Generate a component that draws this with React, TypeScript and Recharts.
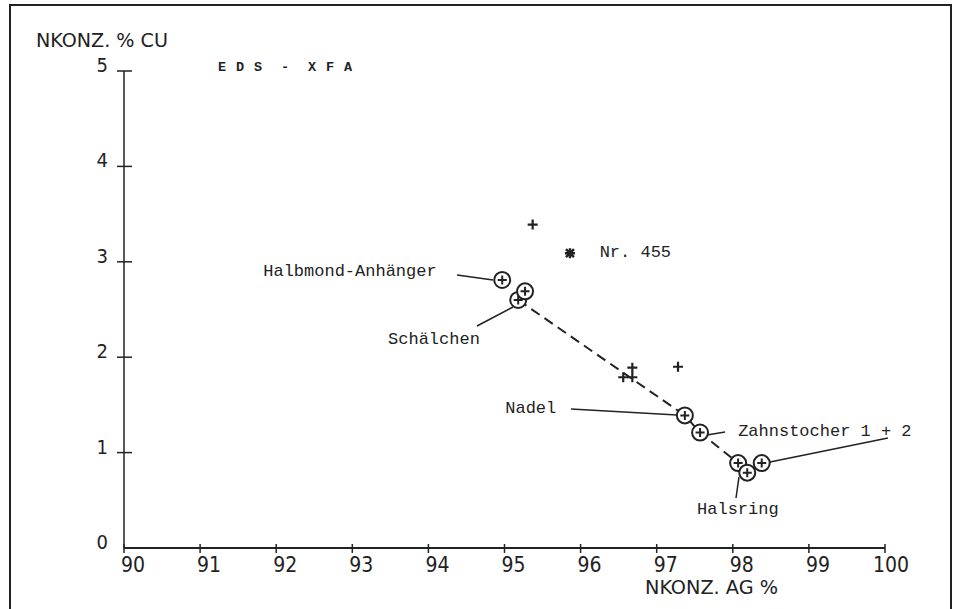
import React from 'react';
import {
  ReferenceLine,
  Scatter,
  ScatterChart,
  XAxis,
  YAxis,
  Label,
} from 'recharts';

// EDS - XFA: Cu gegen Ag (Nennkonzentration), mit Beschriftung der Fundobjekte

const xTicks = [90, 91, 92, 93, 94, 95, 96, 97, 98, 99, 100];
const yTicks = [0, 1, 2, 3, 4, 5];

// einfache Messpunkte (+)
const plusX = [95.37, 96.56, 96.68, 96.68, 97.28];
const plusY = [3.39, 1.79, 1.79, 1.89, 1.9];

// Nr. 455 (Stern)
const starX = [95.86];
const starY = [3.09];

// beschriftete Objekte (Kreis mit +)
const ringX = [94.97, 95.18, 95.27, 97.37, 97.57, 98.07, 98.19, 98.38];
const ringY = [2.81, 2.6, 2.69, 1.39, 1.21, 0.89, 0.79, 0.89];

// gestrichelte Verbindung
const trendX = [95.18, 97.37, 97.57, 98.07];
const trendY = [2.6, 1.39, 1.21, 0.89];

// Beschriftungen (linke Grundlinie)
const labelText = ['Halbmond-Anhänger', 'Schälchen', 'Nr. 455', 'Nadel', 'Zahnstocher 1 + 2', 'Halsring'];
const labelX = [91.83, 93.47, 96.25, 95.01, 98.07, 97.53];
const labelY = [2.85, 2.14, 3.05, 1.415, 1.174, 0.356];

// Hinweislinien [x1, y1, x2, y2]
const leaders = [
  [94.376, 2.862, 94.849, 2.809],
  [94.639, 2.327, 95.112, 2.526],
  [95.874, 1.457, 97.267, 1.394],
  [97.661, 1.184, 97.898, 1.216],
  [98.489, 0.901, 100.039, 1.153],
  [98.042, 0.524, 98.081, 0.744],
];

const INK = '#222';
const MONO = "'Liberation Mono', 'DejaVu Sans Mono', monospace";
const PLOT = "'DejaVu Sans Condensed', 'DejaVu Sans', sans-serif";

const zip = (xs: number[], ys: number[]) => xs.map((x, i) => ({ x, y: ys[i] }));

const plusData = zip(plusX, plusY);
const starData = zip(starX, starY);
const ringData = zip(ringX, ringY);
const trendData = zip(trendX, trendY);
const labelData = labelText.map((text, i) => ({ x: labelX[i], y: labelY[i], text }));

function RingPlus({ cx, cy }: any) {
  return (
    <g>
      <circle cx={cx} cy={cy} r={8} fill="#fff" stroke={INK} strokeWidth={2} />
      <path d={`M${cx - 4.5},${cy}H${cx + 4.5}M${cx},${cy - 4.5}V${cy + 4.5}`} stroke={INK} strokeWidth={2} />
    </g>
  );
}

function Plus({ cx, cy }: any) {
  return <path d={`M${cx - 5},${cy}H${cx + 5}M${cx},${cy - 5}V${cy + 5}`} stroke={INK} strokeWidth={2.2} />;
}

function Star({ cx, cy }: any) {
  return (
    <path
      d={`M${cx - 5},${cy}H${cx + 5}M${cx},${cy - 5}V${cy + 5}M${cx - 4},${cy - 4}L${cx + 4},${cy + 4}M${cx - 4},${cy + 4}L${cx + 4},${cy - 4}`}
      stroke={INK}
      strokeWidth={2.4}
    />
  );
}

function TextMark({ cx, cy, payload }: any) {
  return (
    <text x={cx} y={cy} fontFamily={MONO} fontSize={17} fill={INK} style={{ whiteSpace: 'pre' }}>
      {payload.text}
    </text>
  );
}

function XTick({ x, y, payload }: any) {
  const v = payload.value;
  const tx = v === 100 ? x - 12 : x - 3;
  return (
    <g>
      <line x1={x} y1={y - 4} x2={x} y2={y + 5} stroke={INK} strokeWidth={1.5} />
      <text x={tx} y={y + 24} fontFamily={PLOT} fontSize={21} fill={INK}>
        {v}
      </text>
    </g>
  );
}

function YTick({ x, y, payload }: any) {
  const v = payload.value;
  return (
    <g>
      {v !== 0 && <line x1={x - 7} y1={y} x2={x + 8} y2={y} stroke={INK} strokeWidth={1.5} />}
      <text x={x - 16} y={y + 1} textAnchor="end" fontFamily={PLOT} fontSize={20} fill={INK}>
        {v}
      </text>
    </g>
  );
}

export default function App() {
  return (
    <div style={{ position: 'absolute', left: 0, top: 0, width: 957, height: 609, background: '#fff', overflow: 'hidden' }}>
      <div
        style={{
          position: 'absolute',
          left: 9,
          top: 4,
          width: 939,
          height: 640,
          border: `2px solid ${INK}`,
        }}
      />
      <ScatterChart width={957} height={609} margin={{ top: 71, right: 72, left: 64, bottom: 11 }} style={{ position: 'absolute', left: 0, top: 0 }}>
        <XAxis
          type="number"
          dataKey="x"
          domain={[90, 100]}
          ticks={xTicks}
          interval={0}
          height={50}
          tickSize={0}
          tickMargin={0}
          tick={(p: any) => <XTick {...p} />}
          axisLine={{ stroke: INK, strokeWidth: 2 }}
        >
          <Label
            content={({ viewBox }: any) => (
              <text x={viewBox.x + 521} y={viewBox.y + 46} fontFamily={PLOT} fontSize={19} fill={INK} textLength={133} lengthAdjust="spacingAndGlyphs">
                NKONZ. AG %
              </text>
            )}
          />
        </XAxis>
        <YAxis
          type="number"
          dataKey="y"
          domain={[0, 5]}
          ticks={yTicks}
          interval={0}
          width={60}
          tickSize={0}
          tickMargin={0}
          tick={(p: any) => <YTick {...p} />}
          axisLine={{ stroke: INK, strokeWidth: 1.5 }}
        >
          <Label
            content={({ viewBox }: any) => (
              <g>
                <text x={viewBox.x - 28} y={viewBox.y - 24} fontFamily={PLOT} fontSize={20} fill={INK} textLength={132} lengthAdjust="spacingAndGlyphs">
                  NKONZ. % CU
                </text>
                <text
                  x={viewBox.x + 154}
                  y={viewBox.y}
                  fontFamily={MONO}
                  fontWeight="bold"
                  fontSize={13.5}
                  letterSpacing={0.9}
                  fill={INK}
                  style={{ whiteSpace: 'pre' }}
                >
                  {'E D S  -  X F A'}
                </text>
              </g>
            )}
          />
        </YAxis>
        {leaders.map((l, i) => (
          <ReferenceLine
            key={i}
            segment={[
              { x: l[0], y: l[1] },
              { x: l[2], y: l[3] },
            ]}
            stroke={INK}
            strokeWidth={1.5}
            ifOverflow="visible"
          />
        ))}
        <Scatter
          data={trendData}
          line={{ stroke: INK, strokeWidth: 2, strokeDasharray: '10 6' }}
          lineJointType="linear"
          shape={() => <g />}
          isAnimationActive={false}
        />
        <Scatter data={ringData} shape={(p: any) => <RingPlus {...p} />} isAnimationActive={false} />
        <Scatter data={plusData} shape={(p: any) => <Plus {...p} />} isAnimationActive={false} />
        <Scatter data={starData} shape={(p: any) => <Star {...p} />} isAnimationActive={false} />
        <Scatter data={labelData} shape={(p: any) => <TextMark {...p} />} isAnimationActive={false} />
      </ScatterChart>
    </div>
  );
}
